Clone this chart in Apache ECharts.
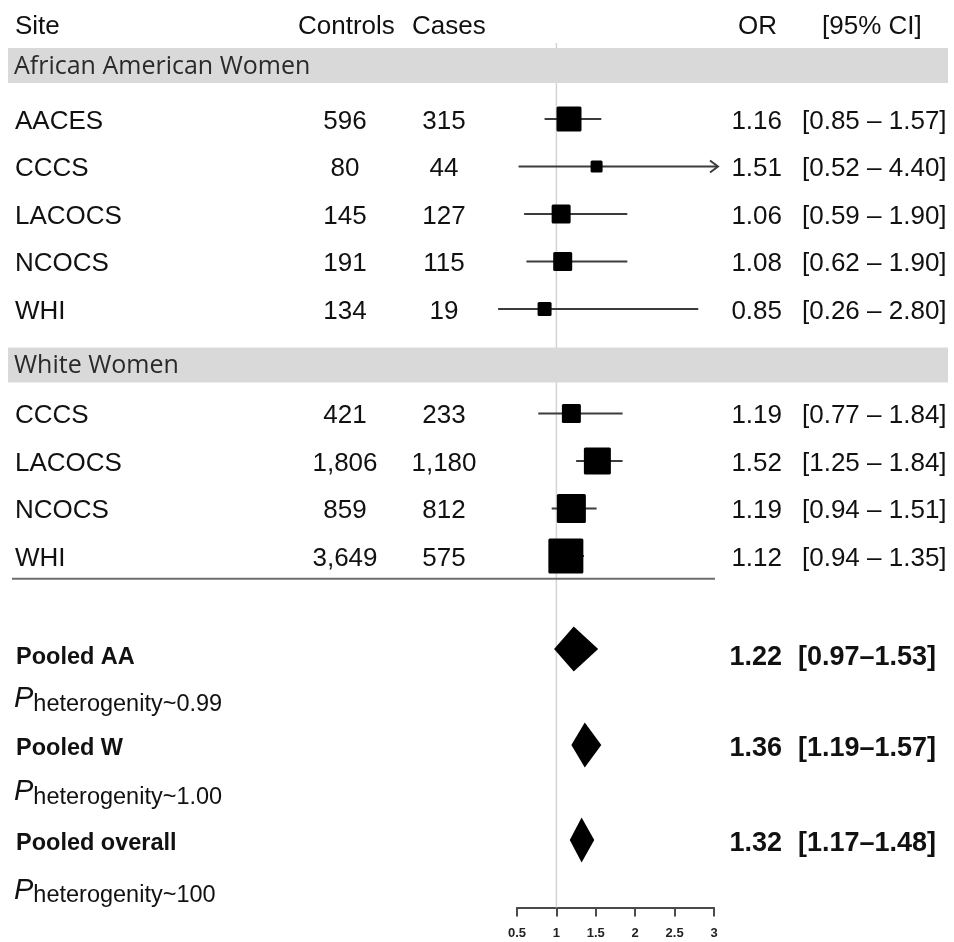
<!DOCTYPE html>
<html>
<head>
<meta charset="utf-8">
<script src="https://cdn.jsdelivr.net/npm/echarts@6/dist/echarts.min.js"></script>
<style>
html,body{margin:0;padding:0;background:#fff;}
#chart{width:954px;height:942px;}
</style>
</head>
<body>
<div id="chart"></div>
<script>
// ---------- data ----------
const headers = ['Site', 'Controls', 'Cases', 'OR', '[95% CI]'];
const groups = ['African American Women', 'White Women'];
const studies = ['AACES', 'CCCS', 'LACOCS', 'NCOCS', 'WHI', 'CCCS', 'LACOCS', 'NCOCS', 'WHI'];
const studyGroup = [0, 0, 0, 0, 0, 1, 1, 1, 1];
const controls = ['596', '80', '145', '191', '134', '421', '1,806', '859', '3,649'];
const cases = ['315', '44', '127', '115', '19', '233', '1,180', '812', '575'];
const orValues = [1.16, 1.51, 1.06, 1.08, 0.85, 1.19, 1.52, 1.19, 1.12];
const ciLow = [0.85, 0.52, 0.59, 0.62, 0.26, 0.77, 1.25, 0.94, 0.94];
const ciHigh = [1.57, 4.40, 1.90, 1.90, 2.80, 1.84, 1.84, 1.51, 1.35];
const studyWeights = [25, 12, 19, 19, 14, 19, 27, 29, 35];
const pooledLabels = ['Pooled AA', 'Pooled W', 'Pooled overall'];
const pooledOR = [1.22, 1.36, 1.32];
const pooledLow = [0.97, 1.19, 1.17];
const pooledHigh = [1.53, 1.57, 1.48];
const pHeterogeneity = ['0.99', '1.00', '100'];
const xTicks = [0.5, 1, 1.5, 2, 2.5, 3];

// ---------- layout (row slots along the vertical value axis) ----------
const X_MIN = xTicks[0], X_MAX = xTicks[xTicks.length - 1];
const headerSlot = -2.0;
const bandSlots = [-1.126, 5.18];
const studySlots = [0, 1, 2, 3, 4, 6.2, 7.2, 8.2, 9.2];
const sepSlot = 9.68;
const pooledSlots = [11.16, 13.18, 15.18];
const pooledTextSlots = [11.28, 13.2, 15.2];
const hetSlots = [12.17, 14.13, 16.2];
const refTopSlot = -1.6;
const Y_MIN = -2.2, Y_MAX = 16.6;

const FONT = "'Liberation Sans', Arial, sans-serif";
const TXT = '#111';
const DY = 2.5;
const fmt = v => v.toFixed(2);

const chart = echarts.init(document.getElementById('chart'), null, {renderer: 'canvas'});

function rowY(api, slot) { return api.coord([1, slot])[1]; }
function txt(x, y, text, opts) {
  return {
    type: 'text',
    style: Object.assign({
      x: x, y: y + DY, text: text, fill: TXT,
      font: '26px ' + FONT, align: 'left', verticalAlign: 'middle'
    }, opts || {})
  };
}

const option = {
  backgroundColor: '#ffffff',
  animation: false,
  grid: {left: 517, width: 197, top: 14.5, height: 893, containLabel: false},
  xAxis: {
    type: 'value', min: X_MIN, max: X_MAX, interval: 0.5,
    position: 'bottom',
    axisLine: {show: true, onZero: false, lineStyle: {color: '#4a4a4a', width: 2}},
    axisTick: {show: true, length: 9, lineStyle: {color: '#4a4a4a', width: 2}},
    axisLabel: {fontSize: 13, fontWeight: 'bold', color: '#222', margin: 19, fontFamily: FONT,
      formatter: v => String(v)},
    splitLine: {show: false}
  },
  yAxis: {type: 'value', min: Y_MIN, max: Y_MAX, inverse: true, show: false},
  series: [
    // reference line at OR = 1
    {
      type: 'custom', clip: false, silent: true, z: 1,
      data: [[1]],
      renderItem: function (params, api) {
        const top = api.coord([1, refTopSlot]);
        const bot = api.coord([1, Y_MAX]);
        return {type: 'line', shape: {x1: top[0], y1: top[1], x2: bot[0], y2: bot[1]},
          style: {stroke: '#d4d4d4', lineWidth: 1.5}};
      }
    },
    // header
    {
      type: 'custom', clip: false, silent: true, z: 3,
      data: [[0]],
      renderItem: function (params, api) {
        const y = rowY(api, headerSlot);
        return {type: 'group', children: [
          txt(15, y, headers[0]),
          txt(298, y, headers[1]),
          txt(412, y, headers[2]),
          txt(777, y, headers[3], {align: 'right'}),
          txt(822, y, headers[4])
        ]};
      }
    },
    // group bands
    {
      type: 'custom', clip: false, silent: true, z: 2,
      data: groups.map((g, i) => [i]),
      renderItem: function (params, api) {
        const i = params.dataIndex;
        const y = rowY(api, bandSlots[i]);
        return {type: 'group', children: [
          {type: 'rect', shape: {x: 8, y: y - 17.5, width: 940, height: 35}, style: {fill: '#d9d9d9'}},
          {type: 'text', style: {x: 14, y: y + 1, text: groups[i], fill: '#2a2a2a',
            font: "25px 'Open Sans', 'Noto Sans', sans-serif", align: 'left', verticalAlign: 'middle'}}
        ]};
      }
    },
    // study rows: text columns
    {
      type: 'custom', clip: false, silent: true, z: 3,
      data: studies.map((s, i) => [i]),
      renderItem: function (params, api) {
        const i = params.dataIndex;
        const y = rowY(api, studySlots[i]);
        return {type: 'group', children: [
          txt(15, y, studies[i]),
          txt(345, y, controls[i], {align: 'center'}),
          txt(444, y, cases[i], {align: 'center'}),
          txt(782, y, fmt(orValues[i]), {align: 'right'}),
          txt(802, y, '[' + fmt(ciLow[i]) + ' \u2013 ' + fmt(ciHigh[i]) + ']')
        ]};
      }
    },
    // study rows: CI lines and boxes
    {
      type: 'custom', clip: false, silent: true, z: 4,
      data: orValues.map((v, i) => [v, studySlots[i]]),
      renderItem: function (params, api) {
        const i = params.dataIndex;
        const c = api.coord([orValues[i], studySlots[i]]);
        const y = c[1];
        const xl = api.coord([ciLow[i], studySlots[i]])[0];
        const capped = ciHigh[i] > X_MAX;
        const xh = api.coord([Math.min(ciHigh[i], X_MAX), studySlots[i]])[0] + (capped ? 4 : 0);
        const s = studyWeights[i];
        const kids = [
          {type: 'line', shape: {x1: xl, y1: y, x2: xh, y2: y}, style: {stroke: '#3c3c3c', lineWidth: 2}}
        ];
        if (capped) {
          kids.push({type: 'polyline', shape: {points: [[xh - 8, y - 6], [xh, y], [xh - 8, y + 6]]},
            style: {stroke: '#3c3c3c', lineWidth: 2, fill: null}});
        }
        kids.push({type: 'rect', shape: {x: c[0] - s / 2, y: y - s / 2, width: s, height: s, r: 1.5},
          style: {fill: '#000'}});
        return {type: 'group', children: kids};
      }
    },
    // separator
    {
      type: 'custom', clip: false, silent: true, z: 3,
      data: [[0]],
      renderItem: function (params, api) {
        const y = rowY(api, sepSlot);
        const xr = api.coord([X_MAX, sepSlot])[0];
        return {type: 'line', shape: {x1: 12, y1: y, x2: xr + 1, y2: y}, style: {stroke: '#6e6e6e', lineWidth: 2}};
      }
    },
    // pooled rows
    {
      type: 'custom', clip: false, silent: true, z: 4,
      data: pooledOR.map((v, i) => [v, pooledSlots[i]]),
      renderItem: function (params, api) {
        const i = params.dataIndex;
        const c = api.coord([pooledOR[i], pooledSlots[i]]);
        const y = c[1];
        const ty = rowY(api, pooledTextSlots[i]);
        const xl = api.coord([pooledLow[i], pooledSlots[i]])[0];
        const xh = api.coord([pooledHigh[i], pooledSlots[i]])[0];
        const h = 22.5;
        return {type: 'group', children: [
          txt(16, ty, pooledLabels[i], {font: 'bold 23.5px ' + FONT}),
          {type: 'polygon', shape: {points: [[xl, y], [c[0], y - h], [xh, y], [c[0], y + h]]},
            style: {fill: '#000'}},
          txt(782, ty, fmt(pooledOR[i]), {font: 'bold 27px ' + FONT, align: 'right'}),
          txt(798, ty, '[' + fmt(pooledLow[i]) + '\u2013' + fmt(pooledHigh[i]) + ']', {font: 'bold 27px ' + FONT})
        ]};
      }
    },
    // heterogeneity rows
    {
      type: 'custom', clip: false, silent: true, z: 3,
      data: pHeterogeneity.map((p, i) => [i]),
      renderItem: function (params, api) {
        const i = params.dataIndex;
        const y = rowY(api, hetSlots[i]);
        return {
          type: 'text',
          style: {
            x: 14, y: y + 2, text: '{p|P}{s|heterogenity~' + pHeterogeneity[i] + '}',
            align: 'left', verticalAlign: 'middle',
            rich: {
              p: {fontFamily: FONT, fontSize: 29, fontStyle: 'italic', fill: TXT, color: TXT, lineHeight: 30},
              s: {fontFamily: FONT, fontSize: 23.5, fill: TXT, color: TXT, lineHeight: 22, padding: [10, 0, 0, 0]}
            }
          }
        };
      }
    }
  ]
};
chart.setOption(option);
</script>
</body>
</html>
